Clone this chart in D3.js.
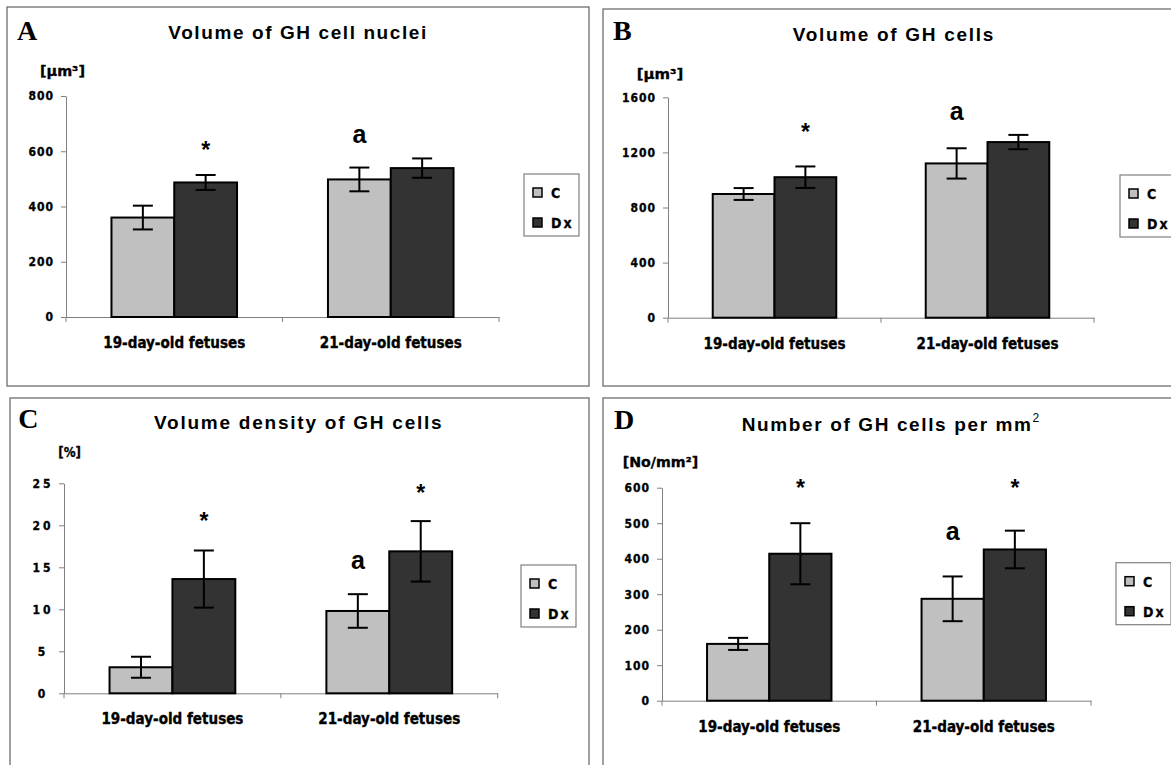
<!DOCTYPE html>
<html><head><meta charset="utf-8">
<script src="https://cdn.jsdelivr.net/npm/d3@7"></script>
<style>
body{margin:0;background:#fff;}
svg{display:block;}
</style></head><body>
<svg id="chart" width="1171" height="765"></svg>
<script>
// ---------- DATA ----------
const categories = ["19-day-old fetuses", "21-day-old fetuses"];
const seriesNames = ["C", "Dx"];

// Panel A: Volume of GH cell nuclei [µm³]
const nucleiC = [360, 498];
const nucleiCErr = [43, 43];
const nucleiDx = [487, 539];
const nucleiDxErr = [27, 35];
const nucleiTicks = [0, 200, 400, 600, 800];
const nucleiMarks = [{cat: 0, series: "Dx", text: "*", value: 620}, {cat: 1, series: "C", text: "a", value: 653}];

// Panel B: Volume of GH cells [µm³]
const cellsC = [898, 1120];
const cellsCErr = [43, 110];
const cellsDx = [1020, 1275];
const cellsDxErr = [78, 52];
const cellsTicks = [0, 400, 800, 1200, 1600];
const cellsMarks = [{cat: 0, series: "Dx", text: "*", value: 1375}, {cat: 1, series: "C", text: "a", value: 1481}];

// Panel C: Volume density of GH cells [%]
const densityC = [3.1, 9.8];
const densityCErr = [1.25, 2.0];
const densityDx = [13.6, 16.9];
const densityDxErr = [3.4, 3.6];
const densityTicks = [0, 5, 10, 15, 20, 25];
const densityMarks = [{cat: 0, series: "Dx", text: "*", value: 20.95}, {cat: 1, series: "Dx", text: "*", value: 24.36}, {cat: 1, series: "C", text: "a", value: 15.57}];

// Panel D: Number of GH cells per mm² [No/mm²]
const numberC = [160, 287];
const numberCErr = [17, 63];
const numberDx = [414, 426];
const numberDxErr = [86, 53];
const numberTicks = [0, 100, 200, 300, 400, 500, 600];
const numberMarks = [{cat: 0, series: "Dx", text: "*", value: 609.6}, {cat: 1, series: "Dx", text: "*", value: 609.6}, {cat: 1, series: "C", text: "a", value: 469.6}];

// ---------- LAYOUT / STYLE ----------
const NARROW = "'Liberation Sans Narrow','Arial Narrow','DejaVu Sans Condensed',sans-serif";
const SANS = "'Liberation Sans',Arial,sans-serif";
const SERIF = "'Liberation Serif','Times New Roman',serif";
const colors = {C: "#c0c0c0", Dx: "#333333"};

const panels = [
  {letter: "A", title: ["Volume of GH cell nuclei"], unit: "[µm³]",
   values: {C: nucleiC, Dx: nucleiDx}, errs: {C: nucleiCErr, Dx: nucleiDxErr}, ticks: nucleiTicks, marks: nucleiMarks,
   box: [7, 7, 589, 386], ax: {left: 66, right: 499, y0: 317, yTop: 96},
   letterPos: [17, 39.5], titlePos: [168.3, 39, 258], unitPos: [40, 76, 45], legendPos: [524, 174], tickAnchor: "end", tickSpacing: 1},
  {letter: "B", title: ["Volume of GH cells"], unit: "[µm³]",
   values: {C: cellsC, Dx: cellsDx}, errs: {C: cellsCErr, Dx: cellsDxErr}, ticks: cellsTicks, marks: cellsMarks,
   box: [603, 9, 1200, 386], ax: {left: 668, right: 1094, y0: 317.7, yTop: 97.3},
   letterPos: [613, 40], titlePos: [792.7, 40.7, 200.6], unitPos: [636.7, 79, 46.6], legendPos: [1120, 175], tickAnchor: "end", tickSpacing: 1},
  {letter: "C", title: ["Volume density of GH cells"], unit: "[%]",
   values: {C: densityC, Dx: densityDx}, errs: {C: densityCErr, Dx: densityDxErr}, ticks: densityTicks, marks: densityMarks,
   box: [10, 398, 589, 800], ax: {left: 64, right: 497.7, y0: 693.3, yTop: 483.3},
   letterPos: [18.3, 428.3], titlePos: [154, 429, 287.7], unitPos: [58.3, 456.7, 22.7], legendPos: [521, 565], tickAnchor: "middle", tickSpacing: 3},
  {letter: "D", title: ["Number of GH cells per mm", "2"], unit: "[No/mm²]",
   values: {C: numberC, Dx: numberDx}, errs: {C: numberCErr, Dx: numberDxErr}, ticks: numberTicks, marks: numberMarks,
   box: [603, 398, 1200, 800], ax: {left: 662, right: 1091, y0: 700.7, yTop: 487.7},
   letterPos: [614, 429.3], titlePos: [741.7, 430.7, 297.6], unitPos: [622.7, 466.7, 75.6], legendPos: [1116, 562.7], tickAnchor: "end", tickSpacing: 1}
];

const svg = d3.select("#chart");

function drawPanel(p) {
  const g = svg.append("g");
  // panel frame
  g.append("rect")
    .attr("x", p.box[0]).attr("y", p.box[1])
    .attr("width", p.box[2] - p.box[0]).attr("height", p.box[3] - p.box[1])
    .attr("fill", "#fff").attr("stroke", "#6e6e6e").attr("stroke-width", 1.3);

  // panel letter
  g.append("text").attr("x", p.letterPos[0]).attr("y", p.letterPos[1])
    .attr("font-family", SERIF).attr("font-weight", "bold").attr("font-size", 28)
    .text(p.letter);

  // title
  const t = g.append("text").attr("x", p.titlePos[0]).attr("y", p.titlePos[1])
    .attr("font-family", SANS).attr("font-weight", "bold").attr("font-size", 19)
    .attr("textLength", p.titlePos[2]).attr("lengthAdjust", "spacing");
  t.append("tspan").text(p.title[0]);
  if (p.title[1]) {
    t.append("tspan").attr("dy", -9).attr("font-size", 12).attr("font-weight", "normal").text(p.title[1]);
  }

  // unit label
  g.append("text").attr("x", p.unitPos[0]).attr("y", p.unitPos[1])
    .attr("font-family", NARROW).attr("font-weight", "bold").attr("font-size", 14)
    .attr("stroke", "#000").attr("stroke-width", 0.3)
    .attr("textLength", p.unitPos[2]).attr("lengthAdjust", "spacingAndGlyphs")
    .text(p.unit);

  const maxV = p.ticks[p.ticks.length - 1];
  const x = d3.scaleBand().domain(categories).range([p.ax.left, p.ax.right]).padding(0);
  const xs = d3.scaleBand().domain(seriesNames)
    .range([x.bandwidth() * 0.21, x.bandwidth() * 0.79]).padding(0);
  const y = d3.scaleLinear().domain([0, maxV]).range([p.ax.y0, p.ax.yTop]);

  // y axis
  const yAxis = d3.axisLeft(y).tickValues(p.ticks).tickSize(5).tickSizeOuter(0).tickPadding(7)
    .tickFormat(d3.format("d"));
  const ya = g.append("g").attr("transform", `translate(${p.ax.left},0)`).call(yAxis);
  ya.select(".domain").attr("stroke", "#808080");
  ya.selectAll(".tick line").attr("stroke", "#808080");
  ya.selectAll(".tick text")
    .attr("font-family", NARROW).attr("font-weight", "bold").attr("font-size", 12)
    .attr("stroke", "#000").attr("stroke-width", 0.3)
    .attr("letter-spacing", p.tickSpacing).attr("fill", "#000")
    .attr("text-anchor", p.tickAnchor)
    .attr("x", p.tickAnchor === "middle" ? -21 : -12);

  // x axis
  const xAxis = d3.axisBottom(x).tickSize(0).tickSizeOuter(0).tickPadding(0);
  const xa = g.append("g").attr("transform", `translate(0,${p.ax.y0})`).call(xAxis);
  xa.select(".domain").attr("stroke", "#808080");
  xa.selectAll(".tick text")
    .attr("y", 31).attr("dy", 0)
    .attr("font-family", NARROW).attr("font-weight", "bold").attr("font-size", 15)
    .attr("fill", "#000").attr("stroke", "#000").attr("stroke-width", 0.35)
    .attr("textLength", 142).attr("lengthAdjust", "spacingAndGlyphs")
    .attr("x", -71).attr("text-anchor", "start");
  // boundary ticks
  const bounds = categories.map(c => x(c)).concat([x(categories[categories.length - 1]) + x.bandwidth()]);
  xa.selectAll("line.bound").data(bounds).join("line").attr("class", "bound")
    .attr("x1", d => d).attr("x2", d => d).attr("y1", 0).attr("y2", 5)
    .attr("stroke", "#808080");

  // bars
  const barData = [];
  seriesNames.forEach(s => categories.forEach((c, i) => {
    barData.push({s, c, v: p.values[s][i], e: p.errs[s][i]});
  }));
  g.selectAll("rect.bar").data(barData).join("rect").attr("class", "bar")
    .attr("x", d => x(d.c) + xs(d.s)).attr("width", xs.bandwidth())
    .attr("y", d => y(d.v)).attr("height", d => y(0) - y(d.v))
    .attr("fill", d => colors[d.s]).attr("stroke", "#000").attr("stroke-width", 2);

  // error bars
  const eg = g.selectAll("g.err").data(barData).join("g").attr("class", "err")
    .attr("transform", d => `translate(${x(d.c) + xs(d.s) + xs.bandwidth() / 2},0)`);
  eg.append("line").attr("x1", 0).attr("x2", 0)
    .attr("y1", d => y(d.v + d.e)).attr("y2", d => y(d.v - d.e))
    .attr("stroke", "#000").attr("stroke-width", 2);
  eg.append("line").attr("x1", -10).attr("x2", 10)
    .attr("y1", d => y(d.v + d.e)).attr("y2", d => y(d.v + d.e))
    .attr("stroke", "#000").attr("stroke-width", 2);
  eg.append("line").attr("x1", -10).attr("x2", 10)
    .attr("y1", d => y(d.v - d.e)).attr("y2", d => y(d.v - d.e))
    .attr("stroke", "#000").attr("stroke-width", 2);

  // significance marks
  g.selectAll("text.mark").data(p.marks).join("text").attr("class", "mark")
    .attr("x", d => x(categories[d.cat]) + xs(d.series) + xs.bandwidth() / 2)
    .attr("y", d => y(d.value) + (d.text === "a" ? 6.5 : 12))
    .attr("text-anchor", "middle")
    .attr("font-family", SANS).attr("font-weight", "bold")
    .attr("font-size", d => d.text === "a" ? 25 : 23)
    .text(d => d.text);

  // legend
  const lg = g.append("g").attr("transform", `translate(${p.legendPos[0]},${p.legendPos[1]})`);
  lg.append("rect").attr("x", 0).attr("y", 0).attr("width", 55).attr("height", 62)
    .attr("fill", "#fff").attr("stroke", "#808080").attr("stroke-width", 1.2);
  const li = lg.selectAll("g.li").data(seriesNames).join("g").attr("class", "li")
    .attr("transform", (d, i) => `translate(9,${14 + i * 30})`);
  li.append("rect").attr("width", 9).attr("height", 9)
    .attr("fill", d => colors[d]).attr("stroke", "#000").attr("stroke-width", 1.5);
  li.append("text").attr("x", 18).attr("y", 10)
    .attr("font-family", NARROW).attr("font-weight", "bold").attr("font-size", 14)
    .attr("stroke", "#000").attr("stroke-width", 0.3)
    .attr("letter-spacing", 2)
    .text(d => d);
}

panels.forEach(drawPanel);
</script>
</body></html>
